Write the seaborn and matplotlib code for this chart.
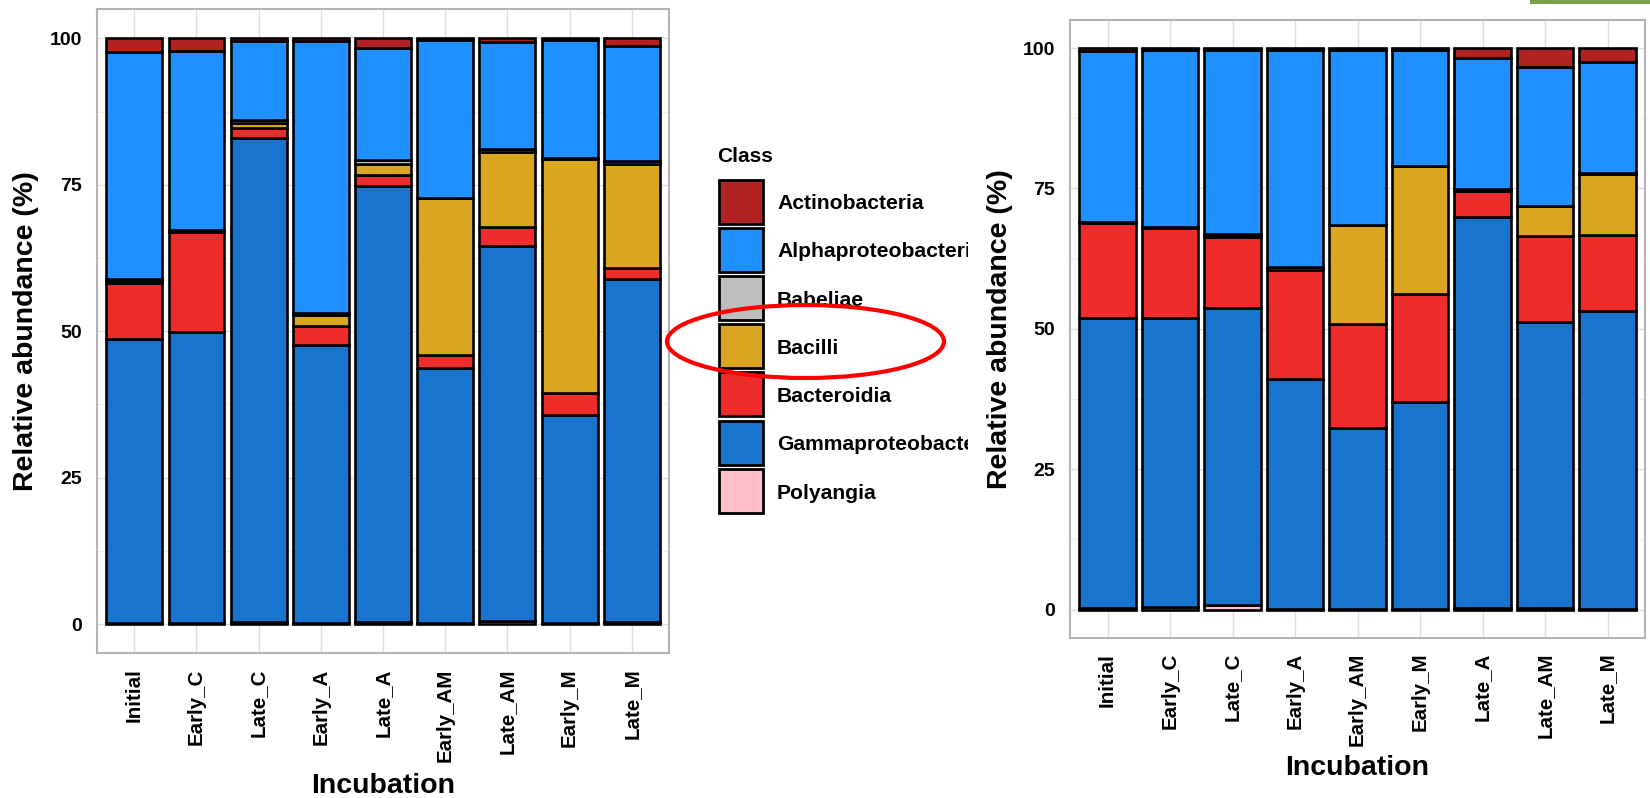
import numpy as np
import pandas as pd
import matplotlib
matplotlib.use("Agg")
import matplotlib.pyplot as plt
import seaborn as sns
from matplotlib.patches import Rectangle, Ellipse
from matplotlib.ticker import MultipleLocator

# ---- data -------------------------------------------------------------
classes = ["Actinobacteria", "Alphaproteobacteria", "Babeliae", "Bacilli",
           "Bacteroidia", "Gammaproteobacteria", "Polyangia"]
class_colors = ["#B22222", "#1E90FF", "#BEBEBE", "#DAA520",
                "#EE2C2C", "#1874CD", "#FFC0CB"]

incubations_left = ["Initial", "Early_C", "Late_C", "Early_A", "Late_A",
                    "Early_AM", "Late_AM", "Early_M", "Late_M"]
actino_left = [2.3, 2.2, 0.4, 0.4, 1.7, 0.3, 0.7, 0.3, 1.4]
alpha_left = [38.8, 30.5, 13.5, 46.5, 19.0, 26.9, 18.2, 20.2, 19.6]
babeliae_left = [0.3, 0.0, 0.5, 0.3, 0.8, 0.1, 0.5, 0.1, 0.5]
bacilli_left = [0.4, 0.3, 1.0, 2.0, 1.8, 26.7, 12.8, 39.9, 17.8]
bacteroidia_left = [9.5, 17.1, 1.6, 3.2, 2.0, 2.3, 3.2, 3.9, 1.8]
gamma_left = [48.5, 49.8, 82.6, 47.5, 74.3, 43.6, 64.1, 35.5, 58.6]
polyangia_left = [0.2, 0.1, 0.4, 0.1, 0.4, 0.1, 0.5, 0.1, 0.3]

incubations_right = ["Initial", "Early_C", "Late_C", "Early_A", "Early_AM",
                     "Early_M", "Late_A", "Late_AM", "Late_M"]
actino_right = [0.5, 0.3, 0.3, 0.4, 0.3, 0.3, 1.7, 3.4, 2.5]
alpha_right = [30.5, 31.5, 32.8, 38.5, 31.2, 20.7, 23.4, 24.8, 19.7]
babeliae_right = [0.1, 0.1, 0.1, 0.1, 0.0, 0.0, 0.0, 0.0, 0.3]
bacilli_right = [0.0, 0.2, 0.4, 0.5, 17.6, 22.8, 0.3, 5.2, 10.8]
bacteroidia_right = [16.9, 15.9, 12.7, 19.4, 18.5, 19.3, 4.7, 15.4, 13.6]
gamma_right = [51.8, 51.6, 52.8, 41.0, 32.3, 36.8, 69.7, 51.0, 53.0]
polyangia_right = [0.2, 0.4, 0.9, 0.1, 0.1, 0.1, 0.2, 0.2, 0.1]


def long_table(incubations, columns):
    rows = []
    for i, inc in enumerate(incubations):
        for cls, vals in zip(classes, columns):
            rows.append({"Incubation": inc, "Class": cls, "Abundance": vals[i]})
    return pd.DataFrame(rows)


df_left = long_table(incubations_left,
                     [actino_left, alpha_left, babeliae_left, bacilli_left,
                      bacteroidia_left, gamma_left, polyangia_left])
df_right = long_table(incubations_right,
                      [actino_right, alpha_right, babeliae_right, bacilli_right,
                       bacteroidia_right, gamma_right, polyangia_right])

# ---- style ------------------------------------------------------------
sns.set_style("white")
plt.rcParams["font.family"] = ["Liberation Sans", "DejaVu Sans"]
plt.rcParams["font.weight"] = "bold"
plt.rcParams["axes.labelweight"] = "bold"
plt.rcParams["text.color"] = "black"
plt.rcParams["axes.labelcolor"] = "black"

W, H = 1650, 798
fig = plt.figure(figsize=(W / 100, H / 100), dpi=100)
fig.patch.set_facecolor("white")


def fx(px):
    return px / W


def fy(py):
    return 1 - py / H


palette = dict(zip(classes, class_colors))
GRID = "#DEDEDE"
FRAME = "#B3B3B3"


def draw_panel(ax, df, incubations, xlabel_y, ylabel_x):
    sns.histplot(data=df, x="Incubation", weights="Abundance", hue="Class",
                 hue_order=classes, palette=palette, multiple="stack",
                 discrete=True, shrink=0.9, alpha=1, edgecolor="black",
                 linewidth=1.9, legend=False, ax=ax)
    ax.set_xlim(-0.6, len(incubations) - 0.4)
    ax.set_ylim(-5, 105)
    ax.set_xticks(range(len(incubations)))
    ax.set_xticklabels(incubations, rotation=90, fontsize=14.8,
                       fontweight="bold", color="black")
    ax.set_yticks([0, 25, 50, 75, 100])
    ax.set_yticklabels(["0", "25", "50", "75", "100"], fontsize=14,
                       fontweight="bold", color="black")
    ax.yaxis.set_minor_locator(MultipleLocator(12.5))
    ax.set_axisbelow(True)
    ax.grid(True, which="major", color=GRID, linewidth=1.0)
    ax.grid(True, which="minor", axis="y", color="#EBEBEB", linewidth=0.6)
    ax.tick_params(which="major", length=5.8, width=1, color=FRAME, pad=5)
    ax.tick_params(which="minor", length=0)
    for sp in ax.spines.values():
        sp.set_visible(True)
        sp.set_color(FRAME)
        sp.set_linewidth(1.5)
    ax.set_xlabel("Incubation", fontsize=20.5, fontweight="bold", color="black")
    ax.set_ylabel("Relative abundance (%)", fontsize=20.5, fontweight="bold",
                  color="black")
    ax.xaxis.label.set_va("center")
    ax.yaxis.label.set_va("center")
    ax.xaxis.set_label_coords(0.5, xlabel_y)
    ax.yaxis.set_label_coords(ylabel_x, 0.5)


ax_left = fig.add_axes([fx(97), fy(653.3), (669 - 97) / W, (653.3 - 9) / H])
draw_panel(ax_left, df_left, incubations_left,
           xlabel_y=(653.3 - 786) / 644.3, ylabel_x=(26 - 97) / 572)

# ---- legend -----------------------------------------------------------
fig.text(fx(717), fy(162.3), "Class", fontsize=15, fontweight="bold",
         ha="left", va="baseline", color="black", zorder=3)
key_top, key_pitch, key_w, key_h = 179.5, 48.24, 44.0, 44.0
for i, (name, col) in enumerate(zip(classes, class_colors)):
    top = key_top + i * key_pitch
    fig.add_artist(Rectangle((fx(719), fy(top + key_h)), key_w / W, key_h / H,
                             transform=fig.transFigure, facecolor=col,
                             edgecolor="black", linewidth=2.0, zorder=3))
    fig.text(fx(777), fy(top + key_h / 2 + 7.6), name, fontsize=15.2,
             fontweight="bold", ha="left", va="baseline", color="black",
             zorder=3)

# highlight around the Bacilli entry
fig.add_artist(Ellipse((fx(805.5), fy(341.5)), 277 / W, 73 / H,
                       transform=fig.transFigure, fill=False,
                       edgecolor="#FF0000", linewidth=3, zorder=4))

# white backdrop for the second panel, trimming the long legend labels
fig.add_artist(Rectangle((fx(968), 0), 1 - fx(968), 1, transform=fig.transFigure,
                         facecolor="white", edgecolor="none", zorder=4.5))

ax_right = fig.add_axes([fx(1070), fy(637.7), (1645 - 1070) / W, (637.7 - 20) / H])
ax_right.set_zorder(5)
draw_panel(ax_right, df_right, incubations_right,
           xlabel_y=(637.7 - 768) / 617.7, ylabel_x=(1000 - 1070) / 575)

# small green tab in the top-right corner
fig.add_artist(Rectangle((fx(1530), fy(4)), 120 / W, 4 / H,
                         transform=fig.transFigure, facecolor="#78A24E",
                         edgecolor="none", zorder=6))

fig.savefig("out.png", dpi=100, facecolor="white")
